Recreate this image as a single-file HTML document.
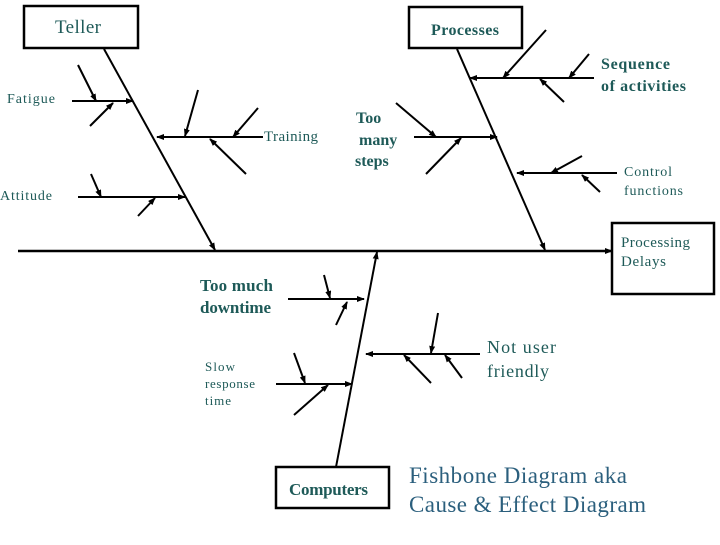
<!DOCTYPE html>
<html><head><style>
body{margin:0;background:#fff;}
svg text{font-family:"Liberation Serif",serif;fill:#1e5a58;}
</style></head><body>
<svg width="720" height="540" viewBox="0 0 720 540" xmlns="http://www.w3.org/2000/svg">
<defs><marker id="a" markerWidth="8" markerHeight="6" refX="7" refY="3" orient="auto" markerUnits="userSpaceOnUse"><path d="M0,0 L8,3 L0,6z" fill="#000"/></marker></defs>
<g stroke="#000" stroke-width="2" fill="none">
<rect x="24" y="6" width="114" height="42" stroke-width="2.5"/>
<rect x="409" y="7" width="113" height="41" stroke-width="2.5"/>
<rect x="612" y="223" width="102" height="71" stroke-width="2.5"/>
<rect x="276" y="467" width="113" height="41" stroke-width="2.5"/>
</g>
<g stroke="#000" stroke-width="2" marker-end="url(#a)">
<line x1="18" y1="251" x2="612" y2="251" stroke-width="2.5"/>
<line x1="104" y1="49" x2="215" y2="250"/>
<line x1="457" y1="49" x2="545" y2="250"/>
<line x1="336" y1="467" x2="377" y2="252"/>
<line x1="72" y1="101" x2="133" y2="101"/>
<line x1="78" y1="65" x2="96" y2="101"/>
<line x1="90" y1="126" x2="113" y2="103"/>
<line x1="263" y1="137" x2="157" y2="137"/>
<line x1="198" y1="90" x2="185" y2="136"/>
<line x1="258" y1="108" x2="233" y2="137"/>
<line x1="246" y1="174" x2="210" y2="139"/>
<line x1="78" y1="197" x2="185" y2="197"/>
<line x1="91" y1="174" x2="101" y2="197"/>
<line x1="138" y1="216" x2="155" y2="198"/>
<line x1="594" y1="78" x2="470" y2="78"/>
<line x1="546" y1="30" x2="503" y2="78"/>
<line x1="589" y1="54" x2="569" y2="78"/>
<line x1="564" y1="102" x2="540" y2="79"/>
<line x1="414" y1="137" x2="497" y2="137"/>
<line x1="396" y1="103" x2="436" y2="137"/>
<line x1="426" y1="174" x2="461" y2="138"/>
<line x1="617" y1="173" x2="517" y2="173"/>
<line x1="582" y1="156" x2="551" y2="173"/>
<line x1="600" y1="192" x2="582" y2="175"/>
<line x1="288" y1="299" x2="364" y2="299"/>
<line x1="324" y1="275" x2="330" y2="298"/>
<line x1="336" y1="325" x2="347" y2="302"/>
<line x1="480" y1="354" x2="366" y2="354"/>
<line x1="438" y1="313" x2="431" y2="353"/>
<line x1="431" y1="383" x2="404" y2="355"/>
<line x1="462" y1="378" x2="445" y2="355"/>
<line x1="276" y1="384" x2="352" y2="384"/>
<line x1="294" y1="353" x2="305" y2="383"/>
<line x1="294" y1="415" x2="328" y2="385"/>
</g>
<text x="55" y="33" font-size="19" textLength="46">Teller</text>
<text x="431" y="35" font-size="16" font-weight="bold" textLength="68">Processes</text>
<text x="7" y="103" font-size="14" textLength="48">Fatigue</text>
<text x="264" y="141" font-size="15" textLength="54">Training</text>
<text x="0" y="200" font-size="14" textLength="52">Attitude</text>
<text x="356" y="123" font-size="16" font-weight="bold">Too</text>
<text x="359" y="145" font-size="16" font-weight="bold">many</text>
<text x="355" y="166" font-size="16" font-weight="bold">steps</text>
<text x="601" y="69" font-size="16" font-weight="bold" textLength="69">Sequence</text>
<text x="601" y="91" font-size="16" font-weight="bold" textLength="85">of activities</text>
<text x="624" y="176" font-size="14" textLength="48">Control</text>
<text x="624" y="195" font-size="14" textLength="59">functions</text>
<text x="621" y="247" font-size="15" textLength="69">Processing</text>
<text x="621" y="266" font-size="15" textLength="45">Delays</text>
<text x="200" y="291" font-size="17" font-weight="bold" textLength="73">Too much</text>
<text x="200" y="313" font-size="17" font-weight="bold" textLength="71">downtime</text>
<text x="205" y="371" font-size="13" textLength="30">Slow</text>
<text x="205" y="388" font-size="13" textLength="50">response</text>
<text x="205" y="405" font-size="13" textLength="26">time</text>
<text x="487" y="353" font-size="18" textLength="69">Not user</text>
<text x="487" y="377" font-size="18" textLength="62">friendly</text>
<text x="289" y="495" font-size="17" font-weight="bold" textLength="79">Computers</text>
<text x="409" y="483" font-size="23" style="fill:#2b5f7d" textLength="218">Fishbone Diagram aka</text>
<text x="409" y="512" font-size="23" style="fill:#2b5f7d" textLength="237">Cause &amp; Effect Diagram</text>
</svg>
</body></html>
